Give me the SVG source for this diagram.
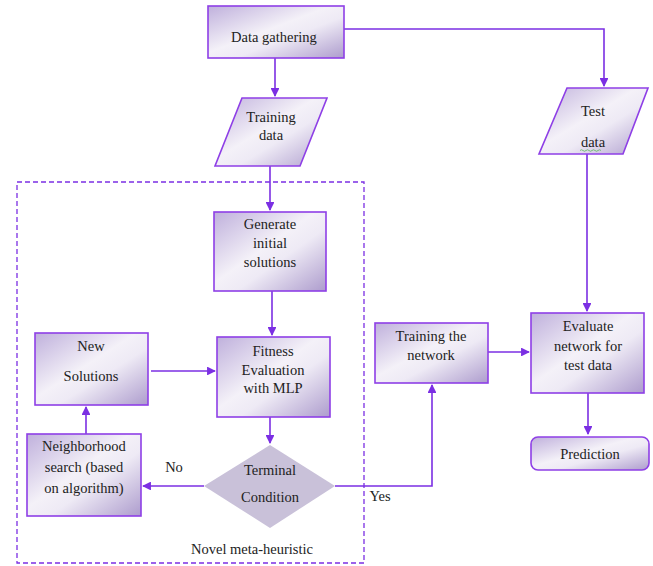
<svg xmlns="http://www.w3.org/2000/svg" width="653" height="566" viewBox="0 0 653 566">
<style>
.box{fill:url(#g);stroke:#8e3fe6;stroke-width:1.6}
.dia{fill:#c9c1d9;stroke:none}
.t{font-family:"Liberation Serif","Times New Roman","DejaVu Serif",serif;font-size:14.5px;fill:#222;text-anchor:middle}
.ln{fill:none;stroke:#7b2fe3;stroke-width:1.6}
</style>
<defs>
<linearGradient id="g" x1="0" y1="0" x2="1" y2="1">
<stop offset="0" stop-color="#bfb0dc"/>
<stop offset="0.45" stop-color="#f4f1f8"/>
<stop offset="0.6" stop-color="#eeeaf5"/>
<stop offset="1" stop-color="#ad9ccd"/>
</linearGradient>
<marker id="a" viewBox="0 0 10 10" refX="9" refY="5" markerWidth="5.5" markerHeight="5.5" orient="auto" markerUnits="strokeWidth">
<path d="M0,0 L10,5 L0,10 Z" fill="#7b2fe3"/>
</marker>
</defs>
<rect x="0" y="0" width="653" height="566" fill="#fff"/>
<g id="connectors">
<path class="ln" d="M275,58 V96" marker-end="url(#a)"/>
<path class="ln" d="M344,29 H604 V86" marker-end="url(#a)"/>
<path class="ln" d="M270,166 V210" marker-end="url(#a)"/>
<path class="ln" d="M272,291 V335" marker-end="url(#a)"/>
<path class="ln" d="M151,371 H215" marker-end="url(#a)"/>
<path class="ln" d="M86,434 V407" marker-end="url(#a)"/>
<path class="ln" d="M270,417 V443" marker-end="url(#a)"/>
<path class="ln" d="M204,486 H143" marker-end="url(#a)"/>
<path class="ln" d="M335,486 H432 V385" marker-end="url(#a)"/>
<path class="ln" d="M488,352 H529" marker-end="url(#a)"/>
<path class="ln" d="M587,154 V311" marker-end="url(#a)"/>
<path class="ln" d="M588,393 V434" marker-end="url(#a)"/>
<text class="t" x="174" y="472">No</text>
<text class="t" x="380" y="501">Yes</text>
</g>
<g id="metaheuristic">
<rect x="17" y="182" width="347" height="381" fill="none" stroke="#7b2fe3" stroke-width="1.3" stroke-dasharray="5,3"/>
<text class="t" x="252" y="554">Novel meta-heuristic</text>
</g>
<g id="data-gathering">
<rect class="box" x="208" y="6" width="136" height="52"/>
<text class="t" x="274" y="42">Data gathering</text>
</g>
<g id="training-data">
<polygon class="box" points="242,98 327,98 300,166 215,166"/>
<text class="t" x="271" y="122">Training</text>
<text class="t" x="271" y="140">data</text>
</g>
<g id="test-data">
<polygon class="box" points="567,88 648,88 623,154 539,154"/>
<text class="t" x="593" y="116">Test</text>
<text class="t" x="593" y="147">data</text>
<path d="M580,150.5 q1.5,-1.5 3,0 t3,0 t3,0 t3,0 t3,0 t3,0 t3,0" fill="none" stroke="#5cb85c" stroke-width="0.8"/>
</g>
<g id="generate">
<rect class="box" x="214" y="212" width="112" height="79"/>
<text class="t" x="270" y="229">Generate</text>
<text class="t" x="270" y="248">initial</text>
<text class="t" x="270" y="267">solutions</text>
</g>
<g id="fitness">
<rect class="box" x="217" y="337" width="113" height="80"/>
<text class="t" x="273" y="356">Fitness</text>
<text class="t" x="273" y="375">Evaluation</text>
<text class="t" x="273" y="393">with MLP</text>
</g>
<g id="new-solutions">
<rect class="box" x="35" y="333" width="113" height="72"/>
<text class="t" x="91" y="351">New</text>
<text class="t" x="91" y="381">Solutions</text>
</g>
<g id="neighborhood">
<rect class="box" x="27" y="434" width="114" height="82"/>
<text class="t" x="84" y="451">Neighborhood</text>
<text class="t" x="84" y="472">search (based</text>
<text class="t" x="84" y="493">on algorithm)</text>
</g>
<g id="terminal">
<polygon class="dia" points="270,445 335,486 270,528 204,486"/>
<text class="t" x="270" y="475">Terminal</text>
<text class="t" x="270" y="502">Condition</text>
</g>
<g id="training-network">
<rect class="box" x="375" y="323" width="113" height="60"/>
<text class="t" x="431" y="341">Training the</text>
<text class="t" x="431" y="360">network</text>
</g>
<g id="evaluate">
<rect class="box" x="531" y="313" width="113" height="80"/>
<text class="t" x="588" y="331">Evaluate</text>
<text class="t" x="588" y="351">network for</text>
<text class="t" x="588" y="370">test data</text>
</g>
<g id="prediction">
<rect class="box" x="531" y="437" width="118" height="33" rx="7"/>
<text class="t" x="590" y="459">Prediction</text>
</g>
</svg>
